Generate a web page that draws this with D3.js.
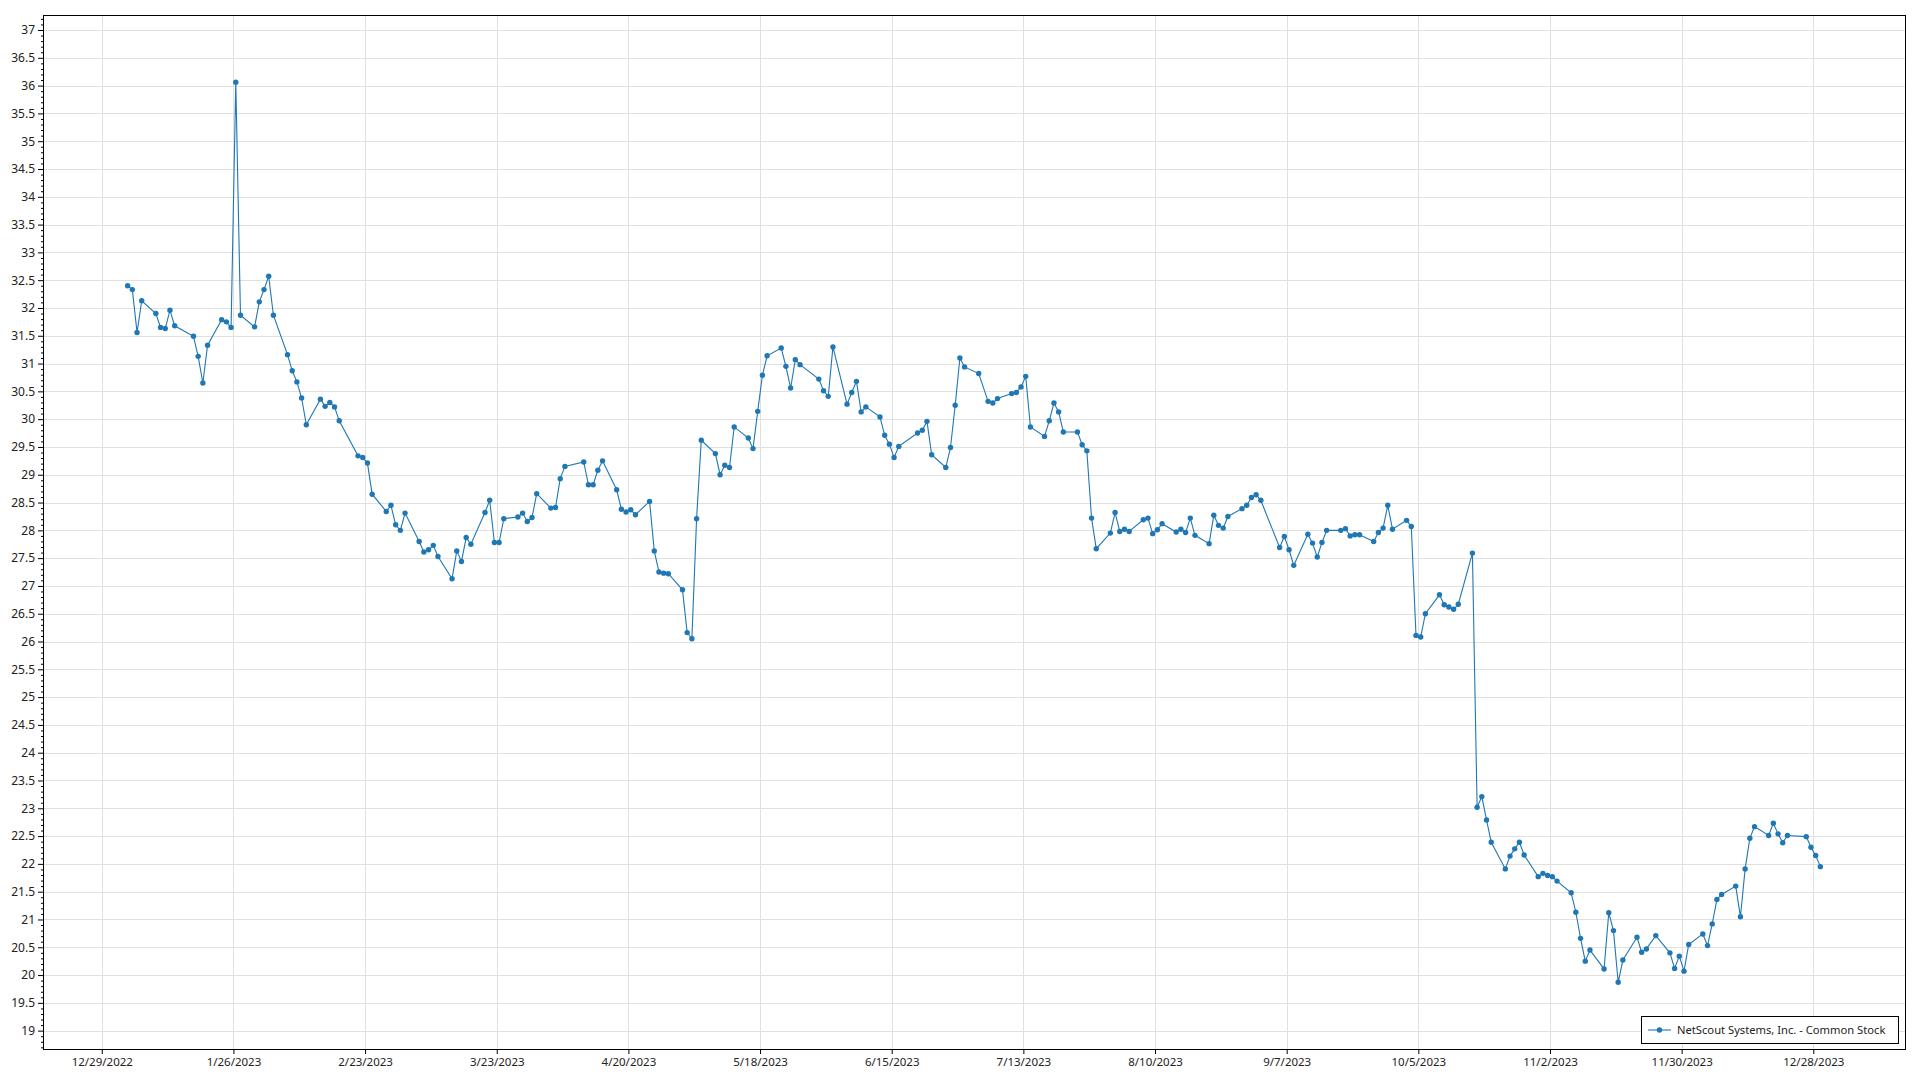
<!DOCTYPE html>
<html><head><meta charset="utf-8">
<script src="https://cdn.jsdelivr.net/npm/d3@7"></script>
<style>
body{margin:0;background:#fff}
svg{display:block}
text{font-family:"Noto Sans","Open Sans",sans-serif;fill:#222}
</style>
</head><body>
<svg id="chart" width="1920" height="1080"></svg>
<script>
const seriesName = "NetScout Systems, Inc. - Common Stock";

const dates = [
"2023-01-03","2023-01-04","2023-01-05","2023-01-06","2023-01-09","2023-01-10","2023-01-11","2023-01-12","2023-01-13",
"2023-01-17","2023-01-18","2023-01-19","2023-01-20","2023-01-23","2023-01-24","2023-01-25","2023-01-26","2023-01-27",
"2023-01-30","2023-01-31","2023-02-01","2023-02-02","2023-02-03","2023-02-06","2023-02-07","2023-02-08","2023-02-09","2023-02-10",
"2023-02-13","2023-02-14","2023-02-15","2023-02-16","2023-02-17","2023-02-21","2023-02-22","2023-02-23","2023-02-24",
"2023-02-27","2023-02-28","2023-03-01","2023-03-02","2023-03-03","2023-03-06","2023-03-07","2023-03-08","2023-03-09","2023-03-10",
"2023-03-13","2023-03-14","2023-03-15","2023-03-16","2023-03-17","2023-03-20","2023-03-21","2023-03-22","2023-03-23","2023-03-24",
"2023-03-27","2023-03-28","2023-03-29","2023-03-30","2023-03-31","2023-04-03","2023-04-04","2023-04-05","2023-04-06",
"2023-04-10","2023-04-11","2023-04-12","2023-04-13","2023-04-14","2023-04-17","2023-04-18","2023-04-19","2023-04-20","2023-04-21",
"2023-04-24","2023-04-25","2023-04-26","2023-04-27","2023-04-28","2023-05-01","2023-05-02","2023-05-03","2023-05-04","2023-05-05",
"2023-05-08","2023-05-09","2023-05-10","2023-05-11","2023-05-12","2023-05-15","2023-05-16","2023-05-17","2023-05-18","2023-05-19",
"2023-05-22","2023-05-23","2023-05-24","2023-05-25","2023-05-26","2023-05-30","2023-05-31","2023-06-01","2023-06-02",
"2023-06-05","2023-06-06","2023-06-07","2023-06-08","2023-06-09","2023-06-12","2023-06-13","2023-06-14","2023-06-15","2023-06-16",
"2023-06-20","2023-06-21","2023-06-22","2023-06-23","2023-06-26","2023-06-27","2023-06-28","2023-06-29","2023-06-30",
"2023-07-03","2023-07-05","2023-07-06","2023-07-07","2023-07-10","2023-07-11","2023-07-12","2023-07-13","2023-07-14",
"2023-07-17","2023-07-18","2023-07-19","2023-07-20","2023-07-21","2023-07-24","2023-07-25","2023-07-26","2023-07-27","2023-07-28",
"2023-07-31","2023-08-01","2023-08-02","2023-08-03","2023-08-04","2023-08-07","2023-08-08","2023-08-09","2023-08-10","2023-08-11",
"2023-08-14","2023-08-15","2023-08-16","2023-08-17","2023-08-18","2023-08-21","2023-08-22","2023-08-23","2023-08-24","2023-08-25",
"2023-08-28","2023-08-29","2023-08-30","2023-08-31","2023-09-01","2023-09-05","2023-09-06","2023-09-07","2023-09-08",
"2023-09-11","2023-09-12","2023-09-13","2023-09-14","2023-09-15","2023-09-18","2023-09-19","2023-09-20","2023-09-21","2023-09-22",
"2023-09-25","2023-09-26","2023-09-27","2023-09-28","2023-09-29","2023-10-02","2023-10-03","2023-10-04","2023-10-05","2023-10-06",
"2023-10-09","2023-10-10","2023-10-11","2023-10-12","2023-10-13","2023-10-16","2023-10-17","2023-10-18","2023-10-19","2023-10-20",
"2023-10-23","2023-10-24","2023-10-25","2023-10-26","2023-10-27","2023-10-30","2023-10-31","2023-11-01","2023-11-02","2023-11-03",
"2023-11-06","2023-11-07","2023-11-08","2023-11-09","2023-11-10","2023-11-13","2023-11-14","2023-11-15","2023-11-16","2023-11-17",
"2023-11-20","2023-11-21","2023-11-22","2023-11-24","2023-11-27","2023-11-28","2023-11-29","2023-11-30","2023-12-01",
"2023-12-04","2023-12-05","2023-12-06","2023-12-07","2023-12-08","2023-12-11","2023-12-12","2023-12-13","2023-12-14","2023-12-15",
"2023-12-18","2023-12-19","2023-12-20","2023-12-21","2023-12-22","2023-12-26","2023-12-27","2023-12-28","2023-12-29"
];

const closes = [
32.40,32.33,31.56,32.13,31.90,31.65,31.63,31.96,31.68,
31.49,31.13,30.65,31.33,31.79,31.75,31.65,36.06,31.87,
31.66,32.11,32.33,32.57,31.87,31.16,30.87,30.67,30.38,29.90,
30.36,30.23,30.30,30.22,29.97,29.34,29.31,29.21,28.65,
28.34,28.45,28.10,28.00,28.31,27.80,27.61,27.65,27.73,27.53,
27.13,27.63,27.44,27.87,27.75,28.32,28.54,27.78,27.78,28.21,
28.24,28.31,28.16,28.23,28.66,28.40,28.41,28.93,29.15,
29.23,28.82,28.82,29.08,29.25,28.73,28.38,28.33,28.37,28.28,
28.52,27.63,27.25,27.23,27.22,26.93,26.16,26.05,28.21,29.62,
29.38,29.00,29.17,29.13,29.86,29.66,29.47,30.14,30.79,31.14,
31.28,30.95,30.56,31.07,30.98,30.72,30.51,30.41,31.30,
30.27,30.48,30.68,30.13,30.22,30.04,29.71,29.55,29.31,29.51,
29.75,29.80,29.96,29.36,29.13,29.49,30.25,31.10,30.94,
30.82,30.32,30.29,30.37,30.46,30.48,30.58,30.77,29.86,
29.69,29.97,30.29,30.13,29.77,29.77,29.54,29.43,28.22,27.67,
27.95,28.32,27.98,28.02,27.98,28.19,28.22,27.94,28.01,28.12,
27.97,28.02,27.96,28.22,27.91,27.76,28.27,28.09,28.04,28.25,
28.39,28.45,28.59,28.64,28.54,27.69,27.89,27.65,27.37,
27.93,27.77,27.52,27.78,28.00,28.00,28.03,27.90,27.92,27.92,
27.80,27.96,28.04,28.45,28.02,28.18,28.07,26.11,26.08,26.50,
26.84,26.66,26.62,26.58,26.67,27.59,23.02,23.21,22.79,22.39,
21.91,22.14,22.27,22.39,22.16,21.77,21.83,21.79,21.77,21.69,
21.48,21.13,20.66,20.25,20.45,20.11,21.12,20.80,19.87,20.27,
20.68,20.41,20.47,20.71,20.40,20.12,20.34,20.07,20.55,
20.74,20.53,20.92,21.36,21.45,21.60,21.05,21.91,22.46,22.67,
22.51,22.73,22.54,22.38,22.51,22.49,22.30,22.15,21.95
];

const xTickLabels = ["12/29/2022","1/26/2023","2/23/2023","3/23/2023","4/20/2023","5/18/2023","6/15/2023",
"7/13/2023","8/10/2023","9/7/2023","10/5/2023","11/2/2023","11/30/2023","12/28/2023"];

const yTickValues = [19,19.5,20,20.5,21,21.5,22,22.5,23,23.5,24,24.5,25,25.5,26,26.5,27,27.5,28,28.5,29,29.5,30,30.5,31,31.5,32,32.5,33,33.5,34,34.5,35,35.5,36,36.5,37];

const yDomain = [18.67, 37.27];

// layout
const L = 43, R = 1905, T = 15, B = 1049;
const color = "#1f77b4";
const gridColor = "#e0e0e0";

const parseDay = d3.timeParse("%Y-%m-%d");
const parseTick = d3.timeParse("%m/%d/%Y");
const points = dates.map((d, i) => ({ date: d3.timeHour.offset(parseDay(d), 12), value: closes[i] }));

const first = points[0].date, last = points[points.length - 1].date;
const span = last - first;
const x = d3.scaleTime()
  .domain([new Date(+first - span * 0.05), new Date(+last + span * 0.05)])
  .range([L, R]);
const y = d3.scaleLinear().domain(yDomain).range([B, T]);

const svg = d3.select("#chart");
svg.append("rect").attr("width", 1920).attr("height", 1080).attr("fill", "#fff");

const xTickDates = xTickLabels.map(parseTick);

// grid
const grid = svg.append("g").attr("shape-rendering", "crispEdges");
grid.selectAll("line.h").data(yTickValues).join("line")
  .attr("x1", L).attr("x2", R)
  .attr("y1", d => Math.round(y(d)) + 0.5).attr("y2", d => Math.round(y(d)) + 0.5)
  .attr("stroke", gridColor).attr("stroke-width", 1);
grid.selectAll("line.v").data(xTickDates).join("line")
  .attr("y1", T).attr("y2", B)
  .attr("x1", d => Math.round(x(d)) + 0.5).attr("x2", d => Math.round(x(d)) + 0.5)
  .attr("stroke", gridColor).attr("stroke-width", 1);

// axes
const fmtY = d3.format("");
const yAxis = d3.axisLeft(y).tickValues(yTickValues).tickSize(5).tickPadding(3).tickFormat(fmtY);
const gy = svg.append("g").attr("transform", `translate(${L},0)`).call(yAxis);
gy.select(".domain").remove();
gy.selectAll("text").attr("font-size", 12).attr("fill", "#222").attr("font-family", "Noto Sans");

const yMinor = [];
for (let k = 187; k <= 372; k++) { const v = k / 10; if (k % 5 !== 0 && v > yDomain[0] && v < yDomain[1]) yMinor.push(v); }
const gym = svg.append("g").attr("transform", `translate(${L},0)`)
  .call(d3.axisLeft(y).tickValues(yMinor).tickSize(2).tickFormat(""));
gym.select(".domain").remove();

const xAxis = d3.axisBottom(x).tickValues(xTickDates).tickSize(5).tickPadding(4)
  .tickFormat(d3.timeFormat("%-m/%-d/%Y"));
const gx = svg.append("g").attr("transform", `translate(0,${B})`).call(xAxis);
gx.select(".domain").remove();
gx.selectAll("text").attr("font-size", 11.5).attr("fill", "#222").attr("font-family", "Noto Sans");

// border
svg.append("rect").attr("x", L + 0.5).attr("y", T + 0.5).attr("width", R - L).attr("height", B - T)
  .attr("fill", "none").attr("stroke", "#000").attr("stroke-width", 1).attr("shape-rendering", "crispEdges");

// series
const line = d3.line().x(d => x(d.date)).y(d => y(d.value));
svg.append("path").datum(points).attr("d", line)
  .attr("fill", "none").attr("stroke", color).attr("stroke-width", 1.1);
svg.append("g").selectAll("circle").data(points).join("circle")
  .attr("cx", d => x(d.date)).attr("cy", d => y(d.value)).attr("r", 2.7).attr("fill", color);

// legend
const lg = svg.append("g");
lg.append("rect").attr("x", 1641.5).attr("y", 1016.5).attr("width", 257).attr("height", 27)
  .attr("fill", "#fff").attr("stroke", "#000").attr("stroke-width", 1);
lg.append("line").attr("x1", 1648).attr("x2", 1671).attr("y1", 1030).attr("y2", 1030)
  .attr("stroke", color).attr("stroke-width", 1.1);
lg.append("circle").attr("cx", 1659.5).attr("cy", 1030).attr("r", 2.7).attr("fill", color);
lg.append("text").attr("x", 1677).attr("y", 1030).attr("dy", "0.35em")
  .attr("font-size", 11.2).attr("fill", "#222").text(seriesName);
</script>
</body></html>
